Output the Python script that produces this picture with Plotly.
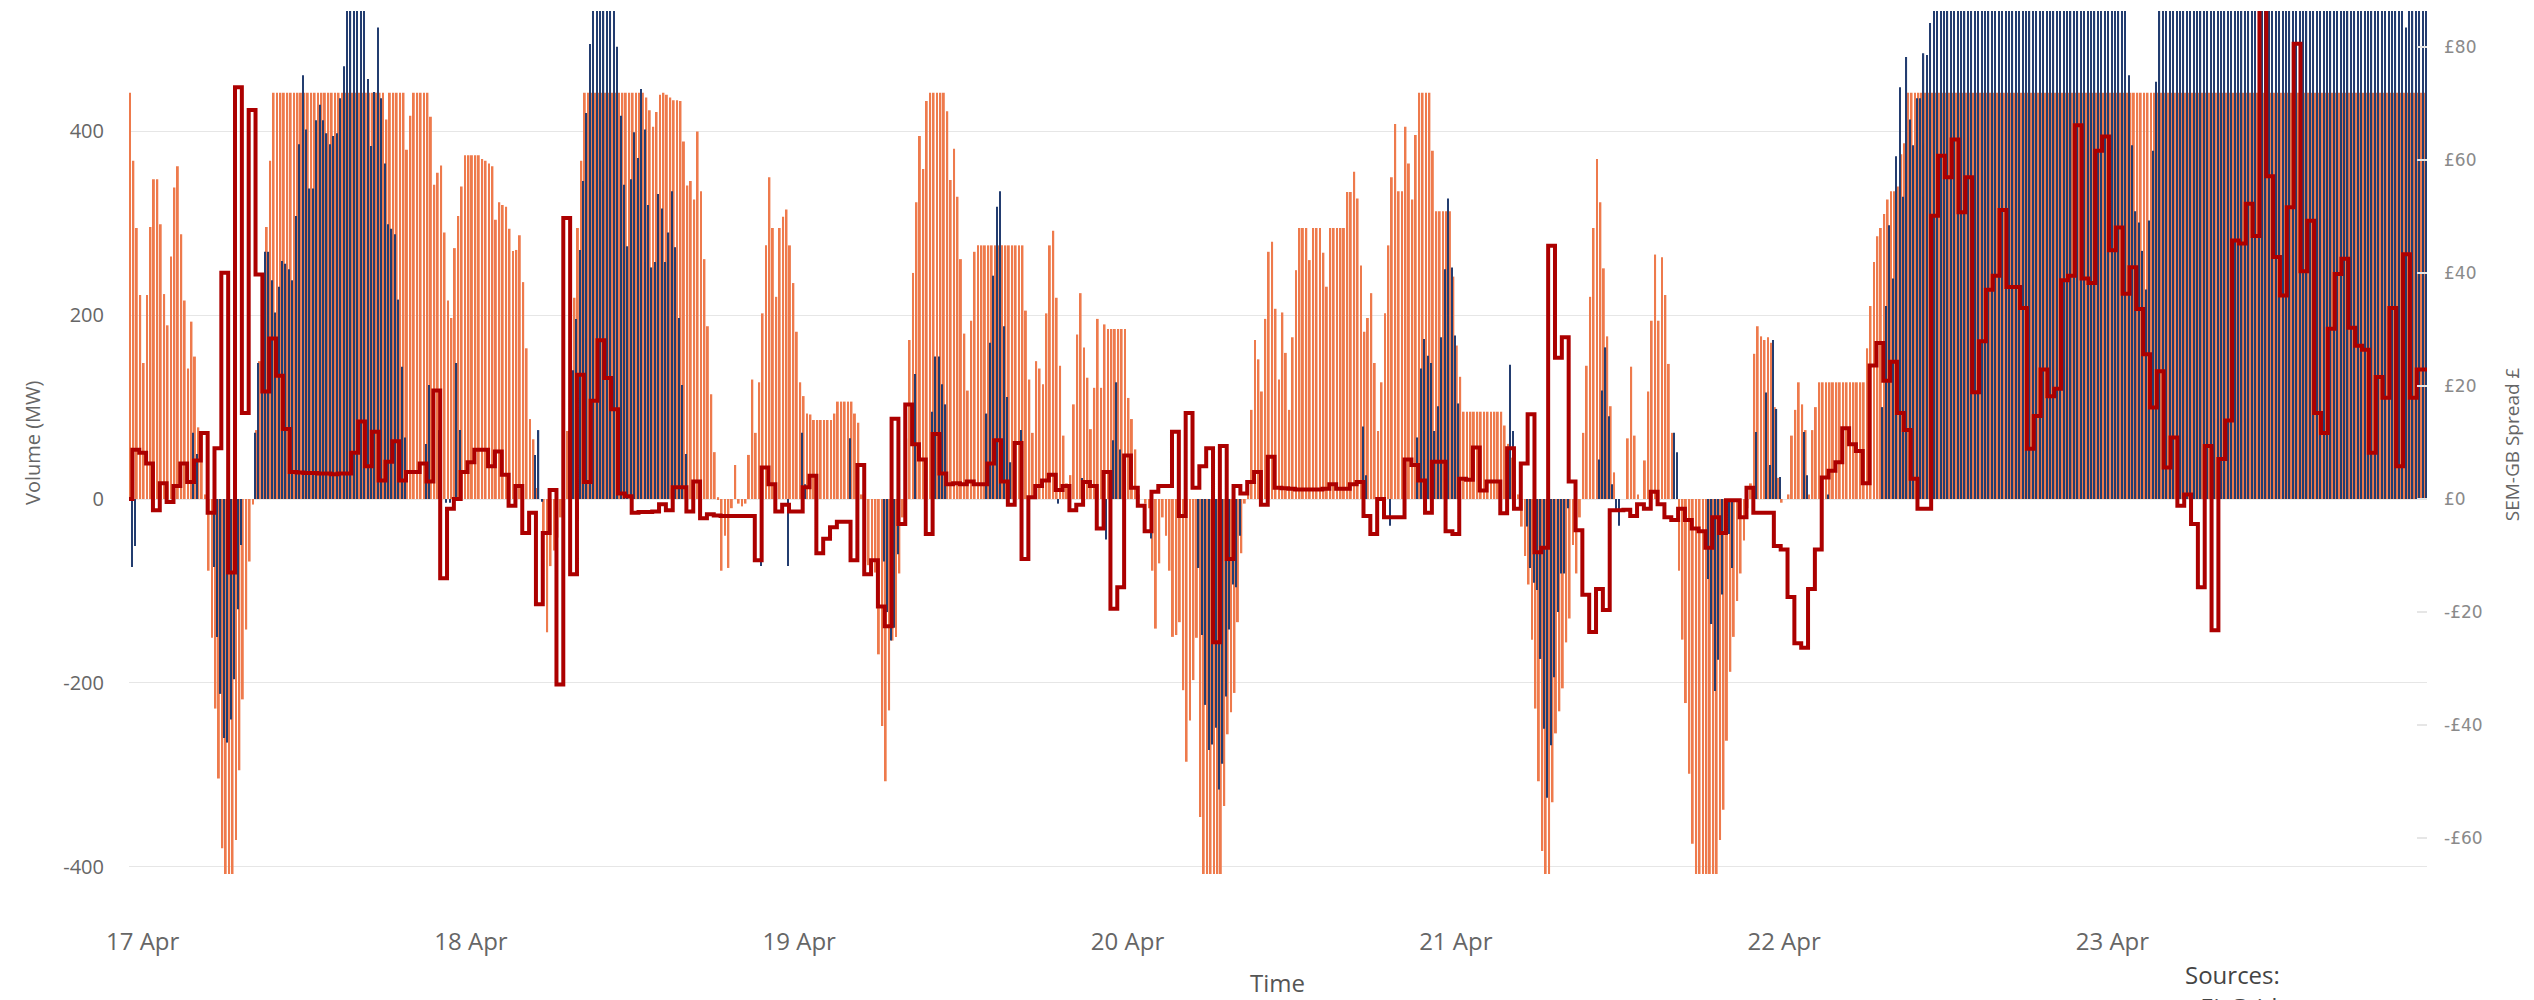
import numpy as np
import pandas as pd
import plotly.graph_objects as go

START = "2024-04-16 23:00"
END = "2024-04-23 23:00"
TICK_DAYS = ["2024-04-17", "2024-04-18", "2024-04-19", "2024-04-20",
             "2024-04-21", "2024-04-22", "2024-04-23"]

# 15-minute volumes (MW), orange series
orange = [
    442, 368, 295, 222, 148, 222, 296, 348, 348, 299, 223, 189, 264, 339, 362, 288, 216, 142, 193, 155, 78, 74, 5, -78,
    -151, -228, -304, -380, -410, -410, -410, -371, -295, -218, -142, -68, -6, 75, 150, 222, 296, 368, 442, 442, 442, 442, 442, 442,
    442, 442, 442, 442, 442, 442, 442, 442, 442, 442, 442, 442, 442, 442, 442, 442, 442, 442, 442, 442, 442, 442, 442, 442,
    442, 442, 442, 413, 442, 442, 442, 442, 442, 380, 417, 442, 442, 442, 442, 442, 416, 342, 355, 363, 290, 216, 197, 273,
    308, 340, 374, 374, 374, 374, 374, 370, 368, 365, 362, 304, 323, 320, 318, 294, 270, 271, 287, 236, 164, 87, 65, 12,
    0, -35, -145, -73, -56, -42, -20, 0, 74, 145, 219, 295, 368, 442, 442, 442, 442, 442, 442, 442, 442, 442, 442, 442,
    442, 442, 442, 442, 442, 442, 442, 437, 423, 405, 421, 440, 442, 440, 437, 434, 434, 433, 389, 341, 346, 326, 400, 335,
    261, 188, 114, 51, 2, -78, -40, -75, -10, 37, -5, -8, -5, 48, 130, 72, 127, 202, 276, 350, 295, 220, 295, 307,
    315, 276, 235, 182, 127, 112, 93, 92, 86, 86, 86, 86, 86, 86, 93, 106, 106, 106, 106, 106, 93, 83, 5, -68,
    -72, -75, -80, -169, -247, -307, -230, -154, -150, -81, -20, 66, 173, 246, 323, 395, 359, 433, 442, 442, 442, 442, 442, 422,
    347, 381, 329, 261, 180, 118, 194, 269, 276, 276, 276, 276, 276, 276, 276, 276, 276, 276, 276, 276, 276, 276, 205, 130,
    72, 150, 142, 125, 202, 276, 292, 219, 145, 69, 17, 26, 103, 179, 224, 165, 132, 76, 121, 196, 121, 190, 185, 185,
    185, 185, 185, 185, 110, 87, 54, 5, 0, -5, -10, -78, -141, -70, -20, -40, -78, -150, -148, -134, -208, -286, -241, -197,
    -151, -346, -410, -410, -410, -410, -410, -410, -334, -256, -232, -211, -134, -59, -5, 20, 97, 173, 152, 117, 196, 269, 280, 207,
    130, 203, 159, 97, 176, 249, 295, 295, 295, 260, 295, 295, 295, 268, 231, 295, 295, 295, 295, 295, 334, 334, 356, 327,
    254, 182, 197, 224, 148, 74, 127, 202, 276, 350, 408, 335, 335, 405, 365, 326, 396, 442, 442, 442, 442, 379, 313, 313,
    313, 313, 313, 242, 167, 133, 95, 95, 95, 95, 95, 95, 95, 95, 95, 95, 95, 95, 80, 60, 45, 20, 5, -30,
    -62, -93, -153, -228, -307, -383, -410, -410, -330, -255, -231, -206, -156, -130, -50, -81, -20, 72, 145, 220, 295, 370, 323, 251,
    177, 101, 29, 0, 0, 0, 66, 144, 69, 5, 0, 42, 117, 194, 266, 194, 263, 222, 147, 72, 0, -78, -153, -222,
    -299, -375, -410, -410, -410, -410, -410, -410, -410, -371, -338, -263, -188, -150, -111, -81, -45, -10, 17, 158, 188, 177, 173, 176,
    170, 100, 23, -4, 0, 5, 69, 97, 127, 103, 75, 5, 75, 100, 127, 127, 127, 127, 127, 127, 127, 127, 127, 127,
    127, 127, 127, 127, 164, 210, 258, 286, 295, 310, 326, 335, 335, 340, 375, 387, 442, 442, 442, 442, 442, 442, 442, 442,
    442, 442, 442, 442, 442, 442, 442, 442, 442, 442, 442, 442, 442, 442, 442, 442, 442, 442, 442, 442, 442, 442, 442, 442,
    442, 442, 442, 442, 442, 442, 442, 442, 442, 442, 442, 442, 442, 442, 442, 442, 442, 442, 442, 442, 442, 442, 442, 442,
    442, 442, 442, 442, 442, 442, 442, 442, 442, 442, 442, 442, 442, 442, 442, 442, 442, 442, 442, 442, 442, 442, 442, 442,
    442, 442, 442, 442, 442, 442, 442, 442, 442, 442, 442, 442, 442, 442, 442, 442, 442, 442, 442, 442, 442, 442, 442, 442,
    442, 442, 442, 442, 442, 442, 442, 442, 442, 442, 442, 442, 442, 442, 442, 442, 442, 442, 442, 442, 442, 442, 442, 442,
    442, 442, 442, 442, 442, 442, 442, 442, 442, 442, 442, 442, 442, 442, 442, 442, 442, 442, 442, 442, 442, 442, 442, 442,
]

# 15-minute volumes (MW), dark blue series
blue = [
    -74, -51, 0, 0, 0, 0, 0, 0, 0, 0, 0, 0, 0, 0, 0, 0, 0, 0, 72, 49, 0, 0, 0, 0,
    -74, -150, -212, -260, -265, -240, -196, -120, -50, 0, 0, 0, 72, 148, 217, 269, 269, 238, 203, 231, 259, 256, 250, 238,
    308, 386, 461, 402, 338, 338, 412, 429, 412, 398, 386, 395, 398, 436, 471, 540, 540, 540, 540, 540, 540, 457, 384, 443,
    513, 436, 365, 299, 294, 288, 217, 144, 67, 0, 0, 0, 0, 0, 60, 124, 0, 0, 75, 0, -4, -4, 0, 148,
    75, 0, 0, 0, 0, 0, 0, 0, 0, 0, 0, 0, 0, 0, 0, 0, 0, 0, 0, 0, 0, 0, 48, 75,
    -3, 0, 0, 0, 0, 0, 0, 0, 74, 140, 196, 271, 346, 420, 495, 540, 540, 540, 540, 540, 540, 540, 492, 417,
    342, 275, 348, 399, 371, 446, 402, 320, 252, 258, 332, 316, 258, 290, 335, 274, 197, 124, 49, 0, 0, 0, 0, 0,
    0, 0, 0, 0, 0, 0, 0, 0, 0, 0, 0, 0, 0, 0, 0, 0, -73, 0, 0, 0, 0, 0, 0, 0,
    -73, 0, 0, 0, 72, 16, 0, 0, 0, 0, 0, 0, 0, 0, 0, 0, 0, 0, 66, 0, 0, 0, 0, 0,
    0, 0, 0, 0, -68, -123, -154, -140, -60, 0, 0, 0, 0, 136, 0, 0, 0, 0, 95, 155, 155, 125, 103, 0,
    0, 0, 0, 0, 0, 0, 0, 0, 0, 0, 93, 170, 243, 318, 335, 188, 111, 40, 0, 0, 75, 0, -20, 0,
    0, 0, 0, 0, 0, 0, 0, -5, 0, 0, 0, 0, 0, 0, 23, 0, 0, 0, 0, 0, 0, -44, 0, 64,
    127, 54, 0, 0, 0, 0, 0, 0, 0, 0, -43, 0, 0, 0, 0, 0, 0, 0, 0, 0, 0, 0, 0, 0,
    -75, -148, -224, -273, -267, -249, -316, -288, -215, -142, -93, -96, -40, 0, 0, 0, 0, 0, 0, 0, 0, 0, 0, 0,
    0, 0, 0, 0, 0, 0, 0, 0, 0, 0, 0, 0, 0, 0, 0, 0, 0, 0, 0, 0, 0, 0, 0, 0,
    79, 26, 0, 0, 0, 0, 0, 0, -29, 0, 0, 0, 0, 0, 0, 0, 67, 142, 174, 156, 148, 74, 101, 176,
    250, 327, 252, 178, 104, 0, 0, 0, 0, 0, 0, 0, 0, 0, 0, 0, 0, 0, 0, 146, 74, 0, 0, 0,
    -30, -75, -91, -99, -174, -250, -325, -268, -194, -123, -81, -81, -10, 0, 0, 0, 0, 0, 0, 0, 0, 43, 118, 165,
    90, 16, -13, -29, 0, 0, 0, 0, 0, 0, 0, 0, 0, 0, 0, 0, 0, 0, 0, 72, 51, 0, 0, 0,
    0, 0, 0, 0, 0, -87, -136, -209, -175, -104, -38, -38, -75, 0, 0, 0, 0, 0, 0, 73, 0, 0, 116, 37,
    173, 98, 24, 0, 0, 0, 0, 0, 0, 73, 26, 0, 0, 0, 0, 0, 5, 0, 0, 0, 0, 0, 0, 0,
    0, 0, 0, 0, 0, 0, 0, 0, 100, 210, 298, 240, 373, 448, 329, 481, 413, 385, 436, 436, 485, 483, 518, 540,
    540, 540, 540, 540, 540, 540, 540, 540, 540, 540, 540, 540, 540, 540, 540, 540, 540, 540, 540, 540, 540, 540, 540, 540,
    540, 540, 540, 540, 540, 540, 540, 540, 540, 540, 540, 540, 540, 540, 540, 540, 540, 540, 540, 540, 540, 540, 540, 540,
    540, 540, 540, 540, 540, 540, 540, 540, 461, 385, 313, 301, 270, 228, 303, 379, 454, 540, 540, 540, 540, 540, 540, 540,
    540, 540, 540, 540, 540, 540, 540, 540, 540, 540, 540, 540, 540, 540, 540, 540, 540, 540, 540, 540, 540, 540, 540, 540,
    540, 540, 540, 540, 540, 540, 540, 540, 540, 540, 540, 540, 540, 540, 540, 540, 540, 540, 540, 540, 540, 540, 540, 540,
    540, 540, 540, 540, 540, 540, 540, 540, 540, 540, 540, 540, 540, 540, 540, 540, 540, 513, 540, 540, 540, 540, 540, 540,
]

# half-hourly SEM-GB spread (GBP), first entry is the partial period at the start
spread = [
    0, 8.7, 8.2, 6.3, -2, 2.8, -0.5, 2.3, 6.3, 3, 6.8, 11.7, -2.4, 9, 40, -13, 72.8, 15.2, 68.8, 39.7, 19, 28.4, 21.8, 12.4,
    4.8, 4.7, 4.6, 4.6, 4.5, 4.5, 4.4, 4.5, 4.5, 8.2, 13.7, 5.8, 11.9, 3.3, 6.6, 10.2, 3.3, 4.8, 4.8, 6.3, 3.1, 19.2, -14, -1.7,
    0, 4.8, 6.5, 8.7, 8.7, 5.8, 8.4, 4.3, -1.2, 2.3, -6, -2.4, -18.6, -6, 1.6, -32.8, 49.7, -13.3, 22, 3, 17.4, 28.1, 21.4, 15.9,
    1.0, 0.5, -2.4, -2.3, -2.3, -2.2, -0.9, -2, 2.1, 2.1, -2.2, 3.1, -3.4, -2.7, -2.9, -3.0, -3.0, -3.0, -3.0, -3.0, -10.8, 5.6, 2.6, -2.2,
    -1, -2.2, -2.2, 2.1, 4.1, -9.6, -7, -5, -4, -4, -10.8, 6, -13.3, -10.8, -19, -22.5, 14.2, -4.4, 16.7, 9.7, 7, -6.2, 11.5, 4.5,
    2.6, 2.8, 2.6, 3.1, 2.6, 2.6, 6.3, 10.4, 3.1, -1, 9.9, -10.6, 0.3, 2.3, 3.3, 4.3, 1.6, 2.3, -2, -1, 3, 2.3, -5.2, 4.8,
    -19.4, -15.6, 7.7, 2, -1.2, -5.7, 1.3, 2.3, 2.3, 11.9, -3, 15.2, 2, 5.8, 9, -25.3, 9.4, -10.6, 2.3, 1, 3, 4.8, -1, 7.5,
    2.0, 1.9, 1.8, 1.7, 1.7, 1.7, 1.7, 1.8, 2.6, 1.8, 1.8, 2.6, 3, -3, -6.2, 0, -3.2, -3.2, -3.2, 7, 6, 3.3, -2.4, 6.6,
    6.6, -5.7, -6.2, 3.6, 3.4, 9.1, 1.5, 3.1, 3.1, -2.5, 9, -1.7, 6.3, 15, -9.4, -8.6, 44.8, 25, 28.6, 3.1, -5.5, -16.9, -23.5, -15.9,
    -19.6, -2, -2, -1.9, -3, -0.9, -1.7, 1.3, -0.9, -3.2, -3.7, -1.7, -3.7, -5.2, -5.7, -8.6, -3.2, -6, -0.2, -0.2, -3.2, 2, -2.4, -2.4,
    -2.4, -8.3, -8.9, -17.3, -25.5, -26.3, -15.9, -8.9, 3.8, 5, 6.5, 12.5, 9.7, 8.5, 2.8, 23.6, 27.6, 20.9, 24.3, 15.2, 12.2, 3.6, -1.7, -1.7,
    50.1, 60.7, 56.9, 63.6, 50.7, 56.9, 18.9, 27.9, 37, 39.5, 51.1, 37.5, 37.5, 33.8, 8.9, 14.7, 22.9, 18.2, 19.5, 38.7, 39.5, 66.1, 39, 38.2,
    61.6, 64.1, 44, 48, 36.3, 41, 33.6, 25.6, 16.2, 22.6, 5.6, 10.9, -1.2, 0.8, -4.4, -15.6, 9.4, -23.2, 7.1, 13.9, 45.7, 45.2, 52.2, 46.5,
    87.7, 57.1, 42.8, 36, 51.6, 80.5, 40.3, 49.2, 15.2, 11.7, 30.1, 39.8, 42.5, 30.3, 27.1, 26.4, 8.2, 21.6, 17.9, 33.8, 5.8, 43.3, 17.9, 22.9,
    22.9,
]

LEFT_TICKS = [-400, -200, 0, 200, 400]
LEFT_LABELS = ["-400", "-200", "0", "200", "400"]
RIGHT_TICKS = [-60, -40, -20, 0, 20, 40, 60, 80]
RIGHT_LABELS = ["-£60", "-£40", "-£20", "£0", "£20", "£40", "£60", "£80"]

t0 = pd.Timestamp(START)
t_end = pd.Timestamp(END)
SLOT_MS = 15 * 60 * 1000
orange_x = t0 + pd.to_timedelta(np.arange(len(orange)) * 15 + 7.5, unit="min")
blue_x = t0 + pd.to_timedelta(np.arange(len(blue)) * 15 + 7.5, unit="min")

line_x = [t0] + [min(t0 + pd.Timedelta(minutes=15 + 30 * (j - 1)), t_end) for j in range(1, len(spread))]
line_x.append(t_end)
line_y = list(spread) + [spread[-1]]

fig = go.Figure()
fig.add_trace(go.Bar(x=orange_x, y=orange, name="Volume A",
                     width=SLOT_MS * 0.56, offset=-SLOT_MS * 0.5,
                     marker=dict(color="#EE7A4C", line=dict(width=0))))
fig.add_trace(go.Bar(x=blue_x, y=blue, name="Volume B",
                     width=SLOT_MS * 0.36, offset=SLOT_MS * 0.1,
                     marker=dict(color="#233D70", line=dict(width=0))))
fig.add_trace(go.Scatter(x=line_x, y=line_y, name="SEM-GB Spread", yaxis="y2",
                         mode="lines", cliponaxis=False,
                         line=dict(color="#AC0000", width=4, shape="hv")))

fig.update_layout(
    width=2534, height=1000,
    margin=dict(l=129, r=107, t=11, b=126),
    paper_bgcolor="white", plot_bgcolor="white",
    barmode="overlay",
    showlegend=False,
    font=dict(family="Open Sans", color="#666666"),
    xaxis=dict(type="date", range=[t0, t_end],
               tickvals=pd.to_datetime(TICK_DAYS), tickformat="%-d %b",
               tickfont=dict(size=24, color="#666666"),
               ticks="", ticklabelstandoff=51,
               showgrid=False, zeroline=False, showline=False),
    yaxis=dict(range=[-408, 531], tickvals=LEFT_TICKS, ticktext=LEFT_LABELS,
               tickfont=dict(size=20, color="#666666"),
               gridcolor="#e6e6e6", gridwidth=1, zeroline=False, showline=False,
               ticks="", ticklabelstandoff=24),
    yaxis2=dict(overlaying="y", side="right", range=[-66.3, 86.3],
                tickvals=RIGHT_TICKS, ticktext=RIGHT_LABELS,
                tickfont=dict(family="DejaVu Sans", size=17, color="#8a8a8a"),
                showgrid=False, zeroline=False, showline=False,
                ticks="inside", ticklen=10, tickwidth=2, tickcolor="#e6e6e6",
                ticklabelstandoff=16),
)

fig.add_annotation(text="Volume (MW)", xref="paper", yref="paper", x=-0.0422, y=0.4994,
                   textangle=-90, showarrow=False, xanchor="center", yanchor="middle",
                   font=dict(size=20, color="#666666"))
fig.add_annotation(text="SEM-GB Spread £", xref="paper", yref="paper", x=1.037, y=0.498,
                   textangle=-90, showarrow=False, xanchor="center", yanchor="middle",
                   font=dict(size=19, color="#666666"))
fig.add_annotation(text="Time", xref="paper", yref="paper", x=0.4996, y=-0.1263,
                   showarrow=False, xanchor="center", yanchor="middle",
                   font=dict(size=24, color="#555555"))
fig.add_annotation(text="Sources:", xref="paper", yref="paper", x=0.8938, y=-0.117,
                   showarrow=False, xanchor="left", yanchor="middle",
                   font=dict(size=24, color="#444444"))
fig.add_annotation(text="• EirGrid", xref="paper", yref="paper", x=0.8938, y=-0.153,
                   showarrow=False, xanchor="left", yanchor="middle",
                   font=dict(size=24, color="#444444"))

fig.write_html("out.html", config={"displayModeBar": False},
               post_script="document.body.style.margin='0';document.body.style.overflow='hidden';")
